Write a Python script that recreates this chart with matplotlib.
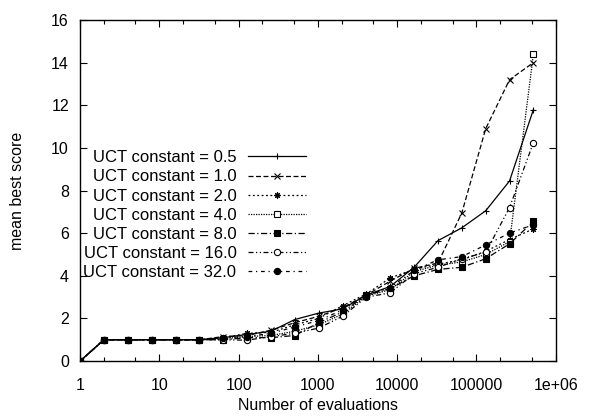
import numpy as np
import matplotlib
matplotlib.use('Agg')
from matplotlib import pyplot as plt
from matplotlib.ticker import LogLocator, FixedLocator, NullFormatter

plt.rcParams['font.family'] = ['Liberation Sans', 'DejaVu Sans']

# number of evaluations: 2^0 .. 2^19
evals = [1, 2, 4, 8, 16, 32, 64, 128, 256, 512, 1024, 2048, 4096, 8192,
         16384, 32768, 65536, 131072, 262144, 524288]

# mean best score per UCT constant
uct_05 = [0, 1, 1, 1, 1, 1, 1.10, 1.25, 1.40, 1.95, 2.25, 2.45, 3.10, 3.50,
          4.40, 5.65, 6.25, 7.05, 8.45, 11.80]
uct_1 = [0, 1, 1, 1, 1, 1, 1.15, 1.20, 1.45, 1.80, 2.10, 2.50, 3.10, 3.75,
         4.35, 4.60, 6.95, 10.90, 13.20, 14.00]
uct_2 = [0, 1, 1, 1, 1, 1, 1.10, 1.30, 1.35, 1.70, 2.00, 2.60, 3.15, 3.90,
         4.30, 4.55, 4.75, 5.15, 5.70, 6.20]
uct_4 = [0, 1, 1, 1, 1, 1, 1.05, 1.15, 1.20, 1.40, 1.70, 2.20, 3.05, 3.35,
         4.20, 4.50, 4.65, 5.00, 5.60, 14.40]
uct_8 = [0, 1, 1, 1, 1, 1, 1.00, 1.10, 1.10, 1.20, 1.80, 2.30, 3.10, 3.40,
         4.00, 4.30, 4.40, 4.80, 5.50, 6.55]
uct_16 = [0, 1, 1, 1, 1, 1, 1.00, 0.98, 1.15, 1.30, 1.55, 2.10, 3.00, 3.20,
          4.10, 4.40, 4.80, 5.10, 7.20, 10.25]
uct_32 = [0, 1, 1, 1, 1, 1, 1.10, 1.15, 1.30, 1.60, 1.90, 2.40, 3.05, 3.45,
          4.25, 4.75, 4.90, 5.45, 6.00, 6.40]

series = [
    ('UCT constant = 0.5', uct_05, '-', '+', 'k'),
    ('UCT constant = 1.0', uct_1, (0, (4, 2)), 'x', 'k'),
    ('UCT constant = 2.0', uct_2, (0, (1.5, 2)), (8, 2, 0), 'k'),
    ('UCT constant = 4.0', uct_4, (0, (1, 1)), 's', 'white'),
    ('UCT constant = 8.0', uct_8, (0, (5, 2, 1, 2)), 's', 'k'),
    ('UCT constant = 16.0', uct_16, (0, (4, 2, 1, 2, 1, 2)), 'o', 'white'),
    ('UCT constant = 32.0', uct_32, (0, (3, 3, 1, 3)), 'o', 'k'),
]

fig = plt.figure(figsize=(6.02, 4.16), dpi=100)
ax = fig.add_axes([0.133, 0.132, 0.79, 0.82])

for label, vals, ls, mk, mfc in series:
    ax.plot(evals, vals, color='k', linestyle=ls, linewidth=0.9,
            marker=mk, markersize=4.5, markerfacecolor=mfc,
            markeredgecolor='k', markeredgewidth=0.8, label=label)

ax.set_xscale('log')
ax.set_xlim(1, 1e6)
ax.set_ylim(0, 16)
ax.set_yticks(np.arange(0, 17, 2))
ax.xaxis.set_major_locator(FixedLocator([1, 10, 100, 1000, 10000, 100000, 1e6]))
ax.set_xticklabels(['1', '10', '100', '1000', '10000', '100000', '1e+06'])
ax.xaxis.set_minor_locator(LogLocator(base=10, subs=(2, 5)))
ax.xaxis.set_minor_formatter(NullFormatter())
ax.tick_params(which='both', direction='in', top=True, right=True,
               labelsize=11.5)
ax.tick_params(axis='x', pad=12)
ax.tick_params(axis='y', pad=8)
ax.tick_params(which='major', length=5, width=0.8)
ax.tick_params(which='minor', length=3, width=0.8)
for s in ax.spines.values():
    s.set_linewidth(1.0)

ax.set_xlabel('Number of evaluations', fontsize=11.5, labelpad=4)
ax.set_ylabel('mean best score', fontsize=11.5, labelpad=19)

ax.legend(loc='upper left', bbox_to_anchor=(0.0, 0.628), markerfirst=False,
          frameon=False, fontsize=12, handlelength=3.5, handletextpad=0.7,
          labelspacing=0.25, borderaxespad=0, borderpad=0.2)

fig.savefig('out.png', dpi=100)
